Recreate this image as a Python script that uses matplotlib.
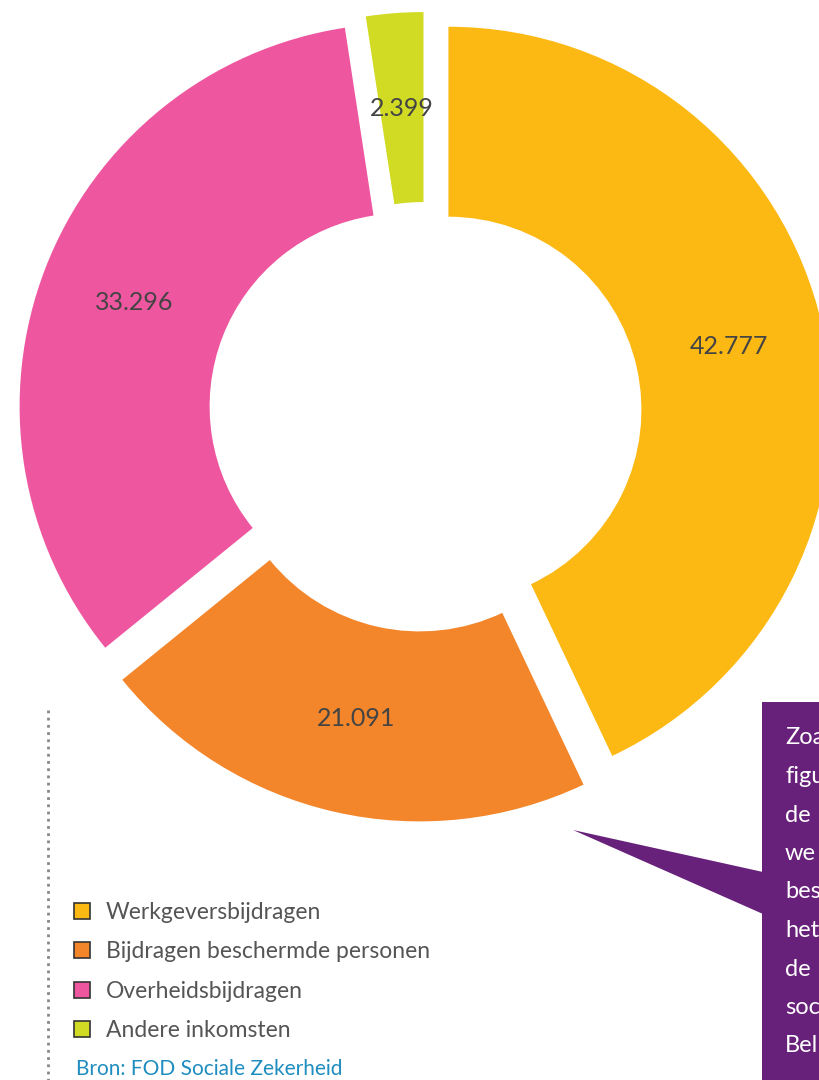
import matplotlib.pyplot as plt
from matplotlib.patches import Patch, Rectangle, Polygon
from matplotlib.lines import Line2D

plt.rcParams['font.family'] = ['Lato', 'DejaVu Sans']

categories = ['Werkgeversbijdragen', 'Bijdragen beschermde personen',
              'Overheidsbijdragen', 'Andere inkomsten']
values = [42.777, 21.091, 33.296, 2.399]
colors = ['#FDB913', '#F3852A', '#EE57A0', '#D2DB24']
bron = 'Bron: FOD Sociale Zekerheid'
# only the visible part of the callout (the box runs off the page)
callout_lines = ['Zoa', 'figu', 'de', 'we', 'bes', 'het', 'de', 'soc', 'Bel']

W, H = 819, 1080
fig = plt.figure(figsize=(W / 100, H / 100), dpi=100)
ax = fig.add_axes([0, 0, 1, 1])

total = sum(values)
wedges, texts, autotexts = ax.pie(
    values, colors=colors, startangle=90, counterclock=False,
    center=(425, H - 415), radius=383, explode=[24, 24, 24, 20],
    wedgeprops=dict(width=190, linewidth=0),
    autopct=lambda p: f'{p * total / 100:.3f}', pctdistance=0.75,
    textprops=dict(color='#444444', fontsize=18))

ax.set_xlim(0, W)
ax.set_ylim(0, H)
ax.set_aspect('equal')
ax.axis('off')

# dotted vertical rule
ax.add_line(Line2D([48, 48], [H - 710, 0], color='#888888', lw=2,
                   linestyle=(0, (1, 1.6))))

# legend
handles = [Patch(facecolor=c, edgecolor='#333333', linewidth=1.2) for c in colors]
fig.legend(handles, categories, loc='upper left',
           bbox_to_anchor=(74 / W, 1 - 902 / H), frameon=False, fontsize=16.5,
           handlelength=0.7, handleheight=0.7, handletextpad=0.7,
           labelspacing=0.8, borderpad=0, borderaxespad=0,
           labelcolor='#555555')

fig.text(76 / W, 1 - 1069 / H, bron, color='#1F8DBF', fontsize=15, va='center')

# purple callout box, cropped at the right edge
purple = '#68217A'
ax.add_patch(Rectangle((762, -20), 120, H - 702 + 20, color=purple, lw=0))
ax.add_patch(Polygon([(573, H - 830), (763, H - 872), (763, H - 914)],
                     closed=True, color=purple, lw=0))
for i, line in enumerate(callout_lines):
    ax.text(785, H - 738 - i * 38.5, line, color='white', fontsize=17,
            va='center', ha='left')

fig.savefig('out.png', dpi=100)
